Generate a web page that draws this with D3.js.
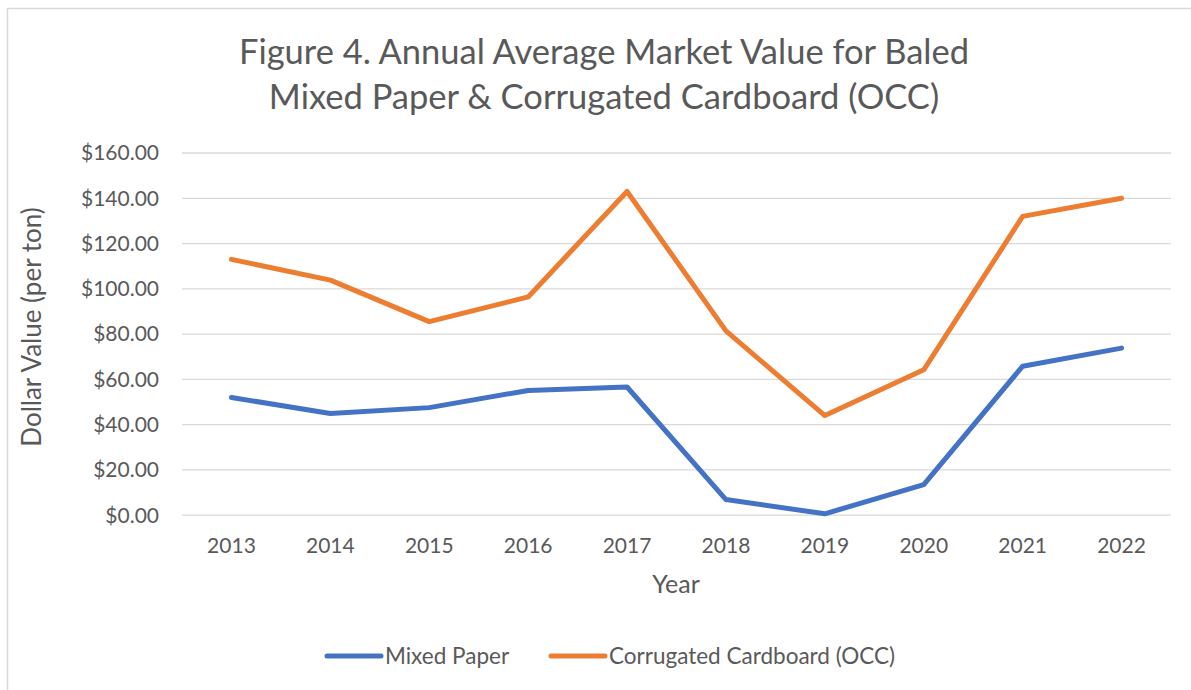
<!DOCTYPE html>
<html>
<head>
<meta charset="utf-8">
<script src="https://cdn.jsdelivr.net/npm/d3@7"></script>
<style>
  body { margin: 0; background: #fff; }
  svg { display: block; font-family: Lato, "Open Sans", sans-serif; }
  .grid line { stroke: #d9d9d9; stroke-width: 1.3; }
  .tick text { fill: #595959; font-size: 21px; }
</style>
</head>
<body>
<svg width="1191" height="690"></svg>
<script>
var years = ['2013', '2014', '2015', '2016', '2017', '2018', '2019', '2020', '2021', '2022'];
var mixedPaper = [51.8, 44.7, 47.3, 54.9, 56.4, 6.7, 0.4, 13.3, 65.6, 73.6];
var occ = [112.8, 103.6, 85.3, 96.2, 142.8, 81.2, 43.8, 64.0, 131.8, 139.8];
var yTicks = [0, 20, 40, 60, 80, 100, 120, 140, 160];
var seriesNames = ['Mixed Paper', 'Corrugated Cardboard (OCC)'];
var colors = ['#4472c4', '#ed7d31'];

var svg = d3.select('svg');
var plotLeft = 182, plotRight = 1171, plotTop = 152.5, plotBottom = 514.7;

// chart frame
svg.append('rect')
    .attr('x', 7.5).attr('y', 8.5)
    .attr('width', 1200).attr('height', 700)
    .style('fill', 'none')
    .style('stroke', '#d9d9d9')
    .style('stroke-width', 1.5);

var x = d3.scaleBand().domain(years).range([plotLeft, plotRight]);
var y = d3.scaleLinear().domain([0, 160]).range([plotBottom, plotTop]);

// gridlines + y labels
var yAxis = svg.append('g')
    .attr('class', 'grid')
    .attr('transform', 'translate(' + plotLeft + ',0)')
    .call(d3.axisLeft(y)
        .tickValues(yTicks)
        .tickSizeInner(-(plotRight - plotLeft))
        .tickSizeOuter(0)
        .tickPadding(23)
        .tickFormat(function(d) {return '$' + d3.format('.2f')(d);}));
yAxis.attr('font-family', null).attr('font-size', null);
yAxis.select('.domain').remove();
yAxis.selectAll('text').attr('dy', '0.35em');

// x labels
var xAxis = svg.append('g')
    .attr('transform', 'translate(0,' + plotBottom + ')')
    .call(d3.axisBottom(x).tickSize(0).tickPadding(23));
xAxis.attr('font-family', null).attr('font-size', null);
xAxis.select('.domain').remove();

// lines
var line = d3.line()
    .x(function(d, i) {return x(years[i]) + x.bandwidth() / 2;})
    .y(function(d) {return y(d);});
[mixedPaper, occ].forEach(function(s, k) {
    svg.append('path')
        .datum(s)
        .attr('d', line)
        .style('fill', 'none')
        .style('stroke', colors[k])
        .style('stroke-width', 5)
        .style('stroke-linejoin', 'round')
        .style('stroke-linecap', 'round');
});

// titles
var title = svg.append('text')
    .attr('text-anchor', 'middle')
    .style('fill', '#595959')
    .style('font-size', '34.5px');
title.append('tspan').attr('x', 604).attr('y', 64).text('Figure 4. Annual Average Market Value for Baled');
title.append('tspan').attr('x', 604).attr('y', 109).text('Mixed Paper & Corrugated Cardboard (OCC)');

svg.append('text')
    .attr('x', 676).attr('y', 593)
    .attr('text-anchor', 'middle')
    .style('fill', '#595959')
    .style('font-size', '25px')
    .text('Year');

svg.append('text')
    .attr('transform', 'translate(41,327) rotate(-90)')
    .attr('text-anchor', 'middle')
    .style('fill', '#595959')
    .style('font-size', '26px')
    .text('Dollar Value (per ton)');

// legend
var legendX = [327, 551];
seriesNames.forEach(function(name, k) {
    var g = svg.append('g').attr('transform', 'translate(' + legendX[k] + ',656)');
    g.append('line')
        .attr('x1', 0).attr('x2', 54)
        .style('stroke', colors[k])
        .style('stroke-width', 5)
        .style('stroke-linecap', 'round');
    g.append('text')
        .attr('x', 58).attr('dy', '0.35em')
        .style('fill', '#595959')
        .style('font-size', '22.5px')
        .text(name);
});
</script>
</body>
</html>
